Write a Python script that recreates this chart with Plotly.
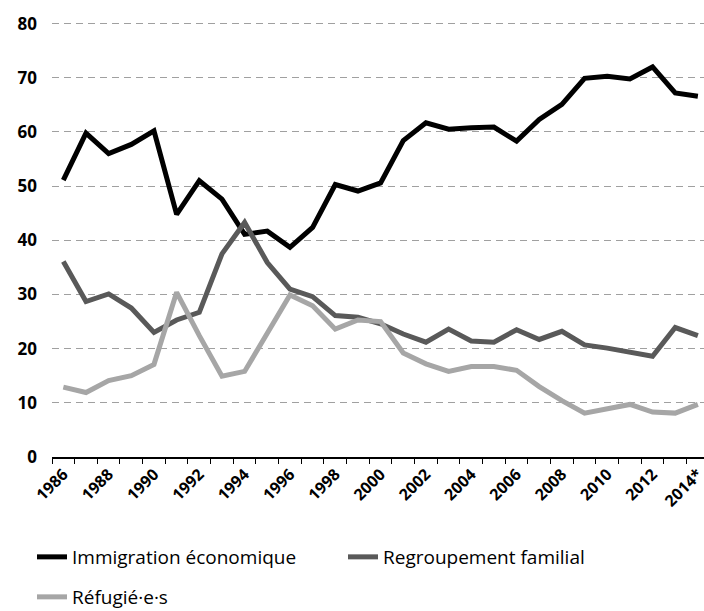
import plotly.graph_objects as go

years = ["1986", "1987", "1988", "1989", "1990", "1991", "1992", "1993", "1994", "1995",
         "1996", "1997", "1998", "1999", "2000", "2001", "2002", "2003", "2004", "2005",
         "2006", "2007", "2008", "2009", "2010", "2011", "2012", "2013", "2014*"]

immigration_economique = [51.1, 59.8, 56.0, 57.7, 60.2, 44.8, 51.0, 47.6, 41.1, 41.7,
                          38.7, 42.4, 50.3, 49.1, 50.6, 58.4, 61.7, 60.5, 60.8, 60.9,
                          58.3, 62.3, 65.1, 69.9, 70.3, 69.8, 72.0, 67.2, 66.6]

regroupement_familial = [36.1, 28.7, 30.1, 27.5, 23.0, 25.3, 26.7, 37.5, 43.3, 35.9,
                         31.0, 29.6, 26.1, 25.8, 24.6, 22.7, 21.2, 23.6, 21.4, 21.2,
                         23.5, 21.7, 23.2, 20.7, 20.1, 19.3, 18.6, 23.9, 22.4]

refugies = [12.9, 11.9, 14.1, 15.0, 17.1, 30.4, 22.4, 14.9, 15.8, 22.7,
            29.9, 27.9, 23.6, 25.3, 25.0, 19.2, 17.2, 15.8, 16.7, 16.7,
            16.0, 13.0, 10.4, 8.1, 8.9, 9.7, 8.3, 8.1, 9.7]

y_ticks = [0, 10, 20, 30, 40, 50, 60, 70, 80]
x_labels = [y if i % 2 == 0 else "" for i, y in enumerate(years)]

series = [
    ("Immigration économique", immigration_economique, "#000000", "legend"),
    ("Regroupement familial", regroupement_familial, "#595959", "legend"),
    ("Réfugié·e·s", refugies, "#a6a6a6", "legend2"),
]

fig = go.Figure()
for name, vals, color, leg in series:
    fig.add_trace(go.Scatter(
        x=years, y=vals, name=name, mode="lines",
        line=dict(color=color, width=5),
        legend=leg,
    ))

y_tick_font = dict(family="Open Sans", size=17, color="#000000", weight="bold")
x_tick_font = dict(family="Open Sans", size=16, color="#000000", weight="bold")

fig.update_layout(
    width=704, height=611,
    margin=dict(l=52, r=0, t=22, b=154, autoexpand=False),
    paper_bgcolor="white", plot_bgcolor="white",
    font=dict(family="Open Sans", color="#000000"),
    xaxis=dict(
        type="category",
        range=[-0.5, 28.27],
        tickmode="array", tickvals=years, ticktext=x_labels,
        tickangle=-45, tickfont=x_tick_font,
        tickson="boundaries",
        ticks="outside", ticklen=5, tickcolor="#000000", tickwidth=1,
        showline=True, linecolor="#000000", linewidth=1.5,
        showgrid=False, zeroline=False, automargin=False,
    ),
    yaxis=dict(
        range=[0, 80.3],
        tickmode="array", tickvals=y_ticks,
        tickfont=y_tick_font,
        ticks="", ticklabelstandoff=14,
        showgrid=True, gridcolor="#a0a0a0", gridwidth=1, griddash="7px,5px",
        zeroline=False, showline=False, automargin=False,
    ),
    legend=dict(
        orientation="h", xref="container", yref="container",
        x=32 / 704, y=1 - 557 / 611, xanchor="left", yanchor="middle",
        font=dict(family="Open Sans", size=19, color="#000000"),
        entrywidth=266, entrywidthmode="pixels",
        bgcolor="rgba(0,0,0,0)",
    ),
    legend2=dict(
        orientation="h", xref="container", yref="container",
        x=32 / 704, y=1 - 597 / 611, xanchor="left", yanchor="middle",
        font=dict(family="Open Sans", size=19, color="#000000"),
        bgcolor="rgba(0,0,0,0)",
    ),
)

fig.write_html(
    "out.html",
    config={"displayModeBar": False},
    post_script="document.body.style.margin='0';document.body.style.overflow='hidden';",
)
